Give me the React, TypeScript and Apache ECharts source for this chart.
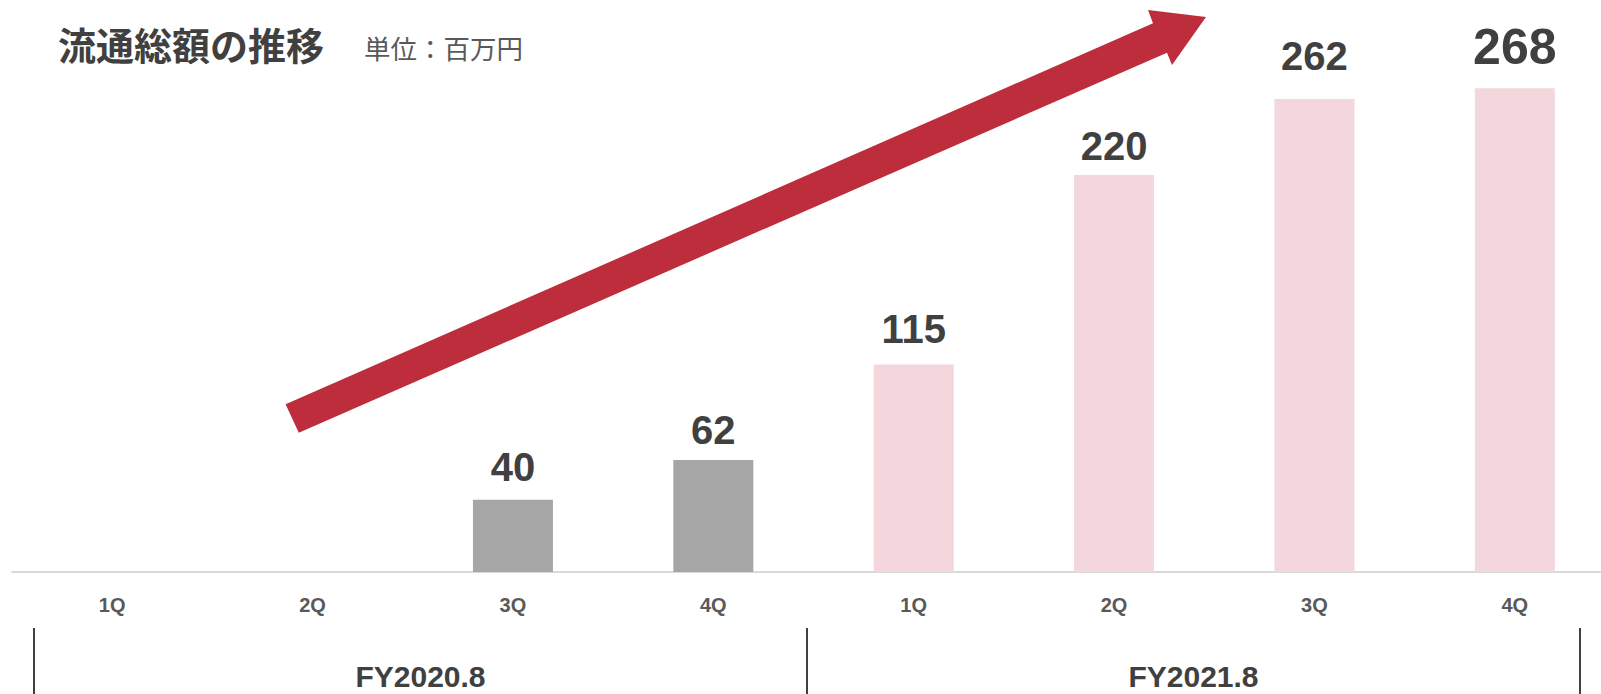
import React, { useEffect, useRef } from "react";
import * as echarts from "echarts";

const quarters = ["1Q", "2Q", "3Q", "4Q", "1Q", "2Q", "3Q", "4Q"];
const fiscalYears = ["FY2020.8", "FY2021.8"];
const fy2020Values: (number | null)[] = [null, null, 40, 62];
const fy2021Values: number[] = [115, 220, 262, 268];
const titleText = "流通総額の推移";
const unitText = "単位：百万円";

// label gap above each bar (styling, per quarter index)
const labelDistances = [10, 10, 12.7, 10.2, 15.7, 9.2, 22.7, 16];

const GRAY = "#a6a6a6";
const PINK = "#f3d7dd";
const RED = "#be2d3c";
const TEXT = "#404040";
const NUM_FONT = "'Liberation Sans', Arial, sans-serif";
const JP_FONT = "'Noto Sans CJK JP', 'Noto Sans', sans-serif";

export default function App() {
  const ref = useRef<HTMLDivElement>(null);

  useEffect(() => {
    if (!ref.current) return;
    document.body.style.margin = "0";
    const chart = echarts.init(ref.current, undefined, { renderer: "svg" });

    const lastIdx = fy2020Values.length + fy2021Values.length - 1;
    const barData: any[] = [];
    fy2020Values.forEach((v, i) => {
      barData.push(
        v == null
          ? "-"
          : { value: v, itemStyle: { color: GRAY }, label: { distance: labelDistances[i] } }
      );
    });
    fy2021Values.forEach((v, i) => {
      const idx = fy2020Values.length + i;
      const item: any = {
        value: v,
        itemStyle: { color: PINK },
        label: { distance: labelDistances[idx] },
      };
      if (idx === lastIdx) {
        item.label.fontSize = 50;
      }
      barData.push(item);
    });

    chart.setOption({
      animation: false,
      grid: [
        { left: 12, width: 1603, top: 30.5, bottom: 122, outerBoundsMode: "none", containLabel: false },
        { left: 34, width: 1546, bottom: 66, height: 1, outerBoundsMode: "none", containLabel: false },
      ],
      xAxis: [
        {
          type: "category",
          gridIndex: 0,
          data: quarters,
          axisLine: { lineStyle: { color: "#d9d9d9", width: 2 } },
          axisTick: { length: 6, lineStyle: { color: "#d9d9d9", width: 1.5 } },
          axisLabel: {
            color: "#595959",
            fontSize: 20,
            fontWeight: "bold",
            fontFamily: NUM_FONT,
            margin: 23,
          },
        },
        {
          type: "category",
          gridIndex: 1,
          data: fiscalYears,
          axisLine: { show: false },
          axisTick: {
            show: true,
            inside: false,
            length: 66,
            lineStyle: { color: TEXT, width: 2 },
          },
          axisLabel: {
            color: TEXT,
            fontSize: 30,
            fontWeight: "bold",
            fontFamily: NUM_FONT,
            margin: 33,
          },
        },
      ],
      yAxis: [
        { type: "value", gridIndex: 0, min: 0, max: 300, show: false, splitLine: { show: false } },
        { type: "value", gridIndex: 1, show: false, splitLine: { show: false } },
      ],
      series: [
        {
          type: "bar",
          xAxisIndex: 0,
          yAxisIndex: 0,
          data: barData,
          barWidth: 80,
          label: {
            show: true,
            position: "top",
            distance: 10,
            color: TEXT,
            fontSize: 40,
            fontWeight: "bold",
            fontFamily: NUM_FONT,
          },
        },
      ],
      graphic: [
        {
          type: "text",
          x: 58,
          y: 43,
          style: {
            text: titleText,
            fontSize: 38,
            fontWeight: "bold",
            fontFamily: JP_FONT,
            fill: TEXT,
            verticalAlign: "middle",
          },
        },
        {
          type: "text",
          x: 364,
          y: 47,
          style: {
            text: unitText,
            fontSize: 26.5,
            fontWeight: "normal",
            fontFamily: JP_FONT,
            fill: "#595959",
            verticalAlign: "middle",
          },
        },
        {
          type: "polygon",
          shape: {
            points: [
              [285.6, 404.3],
              [1153, 23.3],
              [1148, 10],
              [1206, 17],
              [1172, 65],
              [1167, 52.7],
              [298.8, 432.7],
            ],
          },
          style: { fill: RED },
        },
      ],
    });

    return () => chart.dispose();
  }, []);

  return (
    <div
      ref={ref}
      style={{ position: "absolute", left: 0, top: 0, width: 1601, height: 694 }}
    />
  );
}
